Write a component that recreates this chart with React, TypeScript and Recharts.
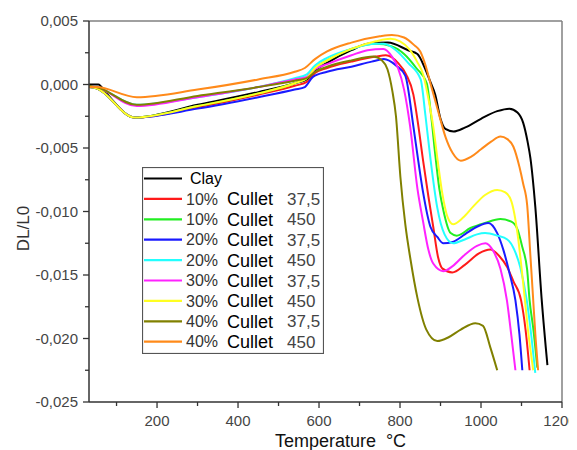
import React from 'react';
import { LineChart, Line, XAxis, YAxis, Legend, ReferenceLine } from 'recharts';

const SERIES_NAMES = [
  'Clay',
  '10% Cullet 37,5',
  '10% Cullet 450',
  '20% Cullet 37,5',
  '20% Cullet 450',
  '30% Cullet 37,5',
  '30% Cullet 450',
  '40% Cullet 37,5',
  '40% Cullet 450',
];
const SERIES_COLORS = ['#000000', '#ff1a1a', '#22ee22', '#1a1aff', '#22ffff', '#ff22ff', '#ffff22', '#808000', '#ff8a1a'];

const T_CLAY = [32, 55, 75, 145, 300, 450, 540, 570, 590, 620, 680, 720, 770, 820, 843, 860, 875, 887, 900, 912, 932, 960, 1000, 1040, 1070, 1090, 1104, 1115, 1122, 1134, 1150, 1164];
const V_CLAY = [0.0, 0.0, -0.0007, -0.0026, -0.0016, -0.0006, 0.0001, 0.0004, 0.0011, 0.0017, 0.0027, 0.0032, 0.0033, 0.0027, 0.0024, 0.0014, 0.0002, -0.0008, -0.0027, -0.0035, -0.0037, -0.0034, -0.0027, -0.0021, -0.0019, -0.0022, -0.003, -0.0045, -0.0058, -0.0096, -0.017, -0.0221];

const T_10_375 = [32, 50, 145, 300, 450, 540, 570, 590, 620, 680, 740, 765, 795, 815, 833, 845, 857, 870, 882, 894, 905, 929, 960, 995, 1023, 1045, 1065, 1080, 1099, 1110, 1120];
const V_10_375 = [-0.0002, -0.0003, -0.0026, -0.0018, -0.0008, -0.0001, 0.0002, 0.0009, 0.0013, 0.0018, 0.0022, 0.0023, 0.0017, 0.0008, -0.0008, -0.0032, -0.006, -0.0088, -0.0112, -0.0136, -0.0145, -0.0148, -0.0142, -0.0133, -0.013, -0.0135, -0.0144, -0.0155, -0.017, -0.0193, -0.0225];

const T_10_450 = [32, 50, 145, 300, 450, 540, 570, 590, 620, 680, 740, 780, 810, 840, 866, 877, 887, 897, 907, 925, 940, 974, 1010, 1048, 1075, 1090, 1102, 1114, 1120, 1129, 1139];
const V_10_450 = [-0.0002, -0.0003, -0.0026, -0.0017, -0.0007, 0.0001, 0.0005, 0.0013, 0.0019, 0.0028, 0.0032, 0.003, 0.0024, 0.0013, 0.0001, -0.0025, -0.0055, -0.0082, -0.0099, -0.0117, -0.0119, -0.0113, -0.0109, -0.0106, -0.0108, -0.0114, -0.0128, -0.0146, -0.017, -0.0192, -0.0223];

const T_20_375 = [32, 50, 145, 300, 450, 540, 565, 585, 620, 680, 730, 760, 790, 813, 833, 845, 857, 875, 892, 907, 930, 960, 990, 1018, 1040, 1055, 1070, 1085, 1095, 1102];
const V_20_375 = [-0.0002, -0.0003, -0.0026, -0.0019, -0.001, -0.0004, -0.0002, 0.0006, 0.001, 0.0014, 0.0018, 0.002, 0.0015, 0.0007, -0.0033, -0.006, -0.0085, -0.0112, -0.012, -0.0125, -0.0124, -0.0118, -0.0112, -0.0109, -0.0117, -0.013, -0.0148, -0.017, -0.0197, -0.0225];

const T_20_450 = [32, 50, 150, 300, 450, 540, 570, 590, 620, 680, 740, 760, 790, 820, 851, 863, 875, 892, 910, 931, 960, 990, 1010, 1040, 1065, 1082, 1097, 1113, 1125, 1134];
const V_20_450 = [-0.0001, -0.0002, -0.0016, -0.001, -0.0002, 0.0005, 0.0008, 0.0015, 0.0021, 0.0028, 0.0032, 0.0032, 0.0027, 0.0017, 0.0004, -0.0025, -0.0058, -0.0097, -0.0118, -0.0125, -0.0122, -0.0118, -0.0117, -0.0119, -0.0122, -0.013, -0.0144, -0.017, -0.02, -0.0227];

const T_30_375 = [32, 50, 150, 300, 450, 540, 570, 590, 620, 680, 720, 759, 780, 795, 810, 825, 843, 857, 870, 882, 907, 930, 960, 990, 1011, 1030, 1048, 1064, 1075, 1085];
const V_30_375 = [-0.0001, -0.0002, -0.0017, -0.001, -0.0002, 0.0004, 0.0006, 0.0012, 0.0016, 0.0023, 0.0027, 0.0028, 0.0022, 0.0013, -0.0004, -0.0033, -0.0082, -0.0108, -0.013, -0.0141, -0.0147, -0.0143, -0.0134, -0.0127, -0.0125, -0.0131, -0.0145, -0.017, -0.0198, -0.0225];

const T_30_450 = [32, 50, 145, 300, 450, 540, 570, 590, 620, 680, 740, 776, 800, 825, 842, 857, 870, 882, 893, 904, 917, 931, 955, 981, 1010, 1040, 1060, 1075, 1090, 1104, 1117, 1129];
const V_30_450 = [-0.0002, -0.0003, -0.0026, -0.0017, -0.0007, 0.0001, 0.0005, 0.0013, 0.0019, 0.0028, 0.0034, 0.0036, 0.0034, 0.0027, 0.0018, 0.0008, -0.0011, -0.0033, -0.006, -0.0085, -0.0104, -0.011, -0.0105, -0.0096, -0.0087, -0.0083, -0.0085, -0.0092, -0.0117, -0.0156, -0.0196, -0.0225];

const T_40_375 = [32, 50, 150, 300, 450, 540, 570, 590, 620, 680, 734, 755, 769, 781, 790, 801, 813, 826, 843, 865, 892, 920, 950, 986, 1005, 1023, 1040];
const V_40_375 = [-0.0001, -0.0002, -0.0016, -0.0009, -0.0002, 0.0003, 0.0005, 0.001, 0.0014, 0.0019, 0.0022, 0.0019, 0.0012, -0.0005, -0.0025, -0.0073, -0.011, -0.0138, -0.0168, -0.0193, -0.0202, -0.0199, -0.0193, -0.0188, -0.019, -0.0207, -0.0225];

const T_40_450 = [32, 50, 150, 300, 450, 540, 565, 590, 620, 680, 750, 780, 810, 835, 850, 862, 875, 895, 912, 930, 950, 975, 1000, 1025, 1048, 1065, 1080, 1095, 1104, 1114, 1122, 1128, 1134, 1141];
const V_40_450 = [-0.0002, -0.0002, -0.001, -0.0004, 0.0004, 0.001, 0.0013, 0.002, 0.0026, 0.0033, 0.0038, 0.0039, 0.0037, 0.0031, 0.0026, 0.0016, 0.0001, -0.0022, -0.0041, -0.0054, -0.006, -0.0057, -0.0051, -0.0045, -0.0041, -0.0043, -0.0049, -0.0065, -0.0078, -0.0095, -0.0135, -0.0165, -0.0196, -0.0225];

const SERIES_T = [T_CLAY, T_10_375, T_10_450, T_20_375, T_20_450, T_30_375, T_30_450, T_40_375, T_40_450];
const SERIES_V = [V_CLAY, V_10_375, V_10_450, V_20_375, V_20_450, V_30_375, V_30_450, V_40_375, V_40_450];

const X_TICKS = [100, 200, 300, 400, 500, 600, 700, 800, 900, 1000, 1100, 1200];
const Y_TICKS = [-0.025, -0.0225, -0.02, -0.0175, -0.015, -0.0125, -0.01, -0.0075, -0.005, -0.0025, 0, 0.0025, 0.005];

const FONT = '"Liberation Sans", Arial, sans-serif';

const zip = (t: number[], v: number[]) => t.map((x, i) => ({ t: x, v: v[i] }));

const fmtY = (v: number) => {
  const s = (Math.abs(v) < 1e-9 ? 0 : v).toFixed(3);
  return s.replace('.', ',');
};

const XTick = (props: any) => {
  const { x, y, payload } = props;
  const major = Math.round(payload.value) % 200 === 0;
  const shift = payload.value === 1200 ? -2 : 0;
  return (
    <g>
      <line x1={x} x2={x} y1={y} y2={y + (major ? 6 : 4)} stroke="#333" strokeWidth={1.3} />
      {major && (
        <text x={x + shift} y={y + 24} textAnchor="middle" fontSize={15} fill="#454545" fontFamily={FONT}>
          {payload.value}
        </text>
      )}
    </g>
  );
};

const YTick = (props: any) => {
  const { x, y, payload } = props;
  const r = payload.value / 0.005;
  const major = Math.abs(r - Math.round(r)) < 1e-6;
  return (
    <g>
      <line x1={x - (major ? 6 : 4)} x2={x} y1={y} y2={y} stroke="#333" strokeWidth={1.3} />
      {major && (
        <text x={x - 11} y={y} dy="0.36em" textAnchor="end" fontSize={15} fill="#454545" fontFamily={FONT}>
          {fmtY(payload.value)}
        </text>
      )}
    </g>
  );
};

const renderLegend = () => {
  return (
    <svg width={182} height={187} style={{ display: 'block' }}>
      <rect x={0.5} y={0.5} width={181} height={186} fill="#fff" stroke="#555" strokeWidth={1.2} />
      {SERIES_NAMES.map((name, i) => {
        const cy = 11.5 + i * 20.4;
        const parts = name.split(' ');
        return (
          <g key={i}>
            <line x1={2} x2={40} y1={cy} y2={cy} stroke={SERIES_COLORS[i]} strokeWidth={2.2} />
            {parts.length === 1 ? (
              <text x={48} y={cy} dy="0.36em" fontSize={16} fill="#000" fontFamily={FONT}>{parts[0]}</text>
            ) : (
              <>
                <text x={44} y={cy} dy="0.36em" fontSize={16} fill="#333" fontFamily={FONT}>{parts[0]}</text>
                <text x={85} y={cy} dy="0.36em" fontSize={18} fill="#000" fontFamily={FONT}>{parts[1]}</text>
                <text x={145} y={cy} dy="0.36em" fontSize={17} fill="#444" fontFamily={FONT}>{parts[2]}</text>
              </>
            )}
          </g>
        );
      })}
    </svg>
  );
};

export default function App() {
  return (
    <div style={{ width: 569, height: 442, background: '#fff' }}>
      <LineChart width={569} height={442} margin={{ top: 13, right: 15, bottom: 0, left: 0 }}>
        <XAxis
          dataKey="t"
          type="number"
          domain={[32, 1200]}
          allowDataOverflow
          ticks={X_TICKS}
          interval={0}
          height={48}
          tickSize={0}
          tickMargin={0}
          tick={<XTick />}
          axisLine={{ stroke: '#333', strokeWidth: 1.5 }}
          label={{
            content: (lp: any) => {
              const vb = lp.viewBox || { x: 81, y: 394, width: 473, height: 48 };
              return (
                <text x={vb.x + vb.width / 2 + 15} y={vb.y + 45} textAnchor="middle" fontSize={18} fill="#111" fontFamily={FONT}>
                  {'Temperature\u00A0 °C'}
                </text>
              );
            },
          }}
        />
        <YAxis
          dataKey="v"
          type="number"
          domain={[-0.025, 0.005]}
          allowDataOverflow
          ticks={Y_TICKS}
          interval={0}
          width={81}
          tickSize={0}
          tickMargin={0}
          tick={<YTick />}
          axisLine={{ stroke: '#333', strokeWidth: 1.5 }}
          label={{
            content: (lp: any) => {
              const vb = lp.viewBox || { x: 0, y: 13, width: 81, height: 381 };
              const cx = vb.x + 14.5;
              const cy = vb.y + vb.height / 2 + 17;
              return (
                <text x={cx} y={cy} dy="0.36em" textAnchor="middle" fontSize={17} fill="#333" fontFamily={FONT} transform={`rotate(-90 ${cx} ${cy})`}>
                  DL/L0
                </text>
              );
            },
          }}
        />
        <ReferenceLine y={0.005} stroke="#808080" strokeWidth={1.5} />
        <ReferenceLine x={1200} stroke="#808080" strokeWidth={1.5} />
        {SERIES_NAMES.map((name, i) => (
          <Line
            key={name}
            name={name}
            data={zip(SERIES_T[i], SERIES_V[i])}
            dataKey="v"
            type="monotone"
            stroke={SERIES_COLORS[i]}
            strokeWidth={2}
            dot={false}
            activeDot={false}
            isAnimationActive={false}
          />
        ))}
        <Legend
          layout="vertical"
          align="center"
          verticalAlign="middle"
          wrapperStyle={{ left: 134, top: 159, width: 182, height: 187 }}
          content={renderLegend}
        />
      </LineChart>
    </div>
  );
}
